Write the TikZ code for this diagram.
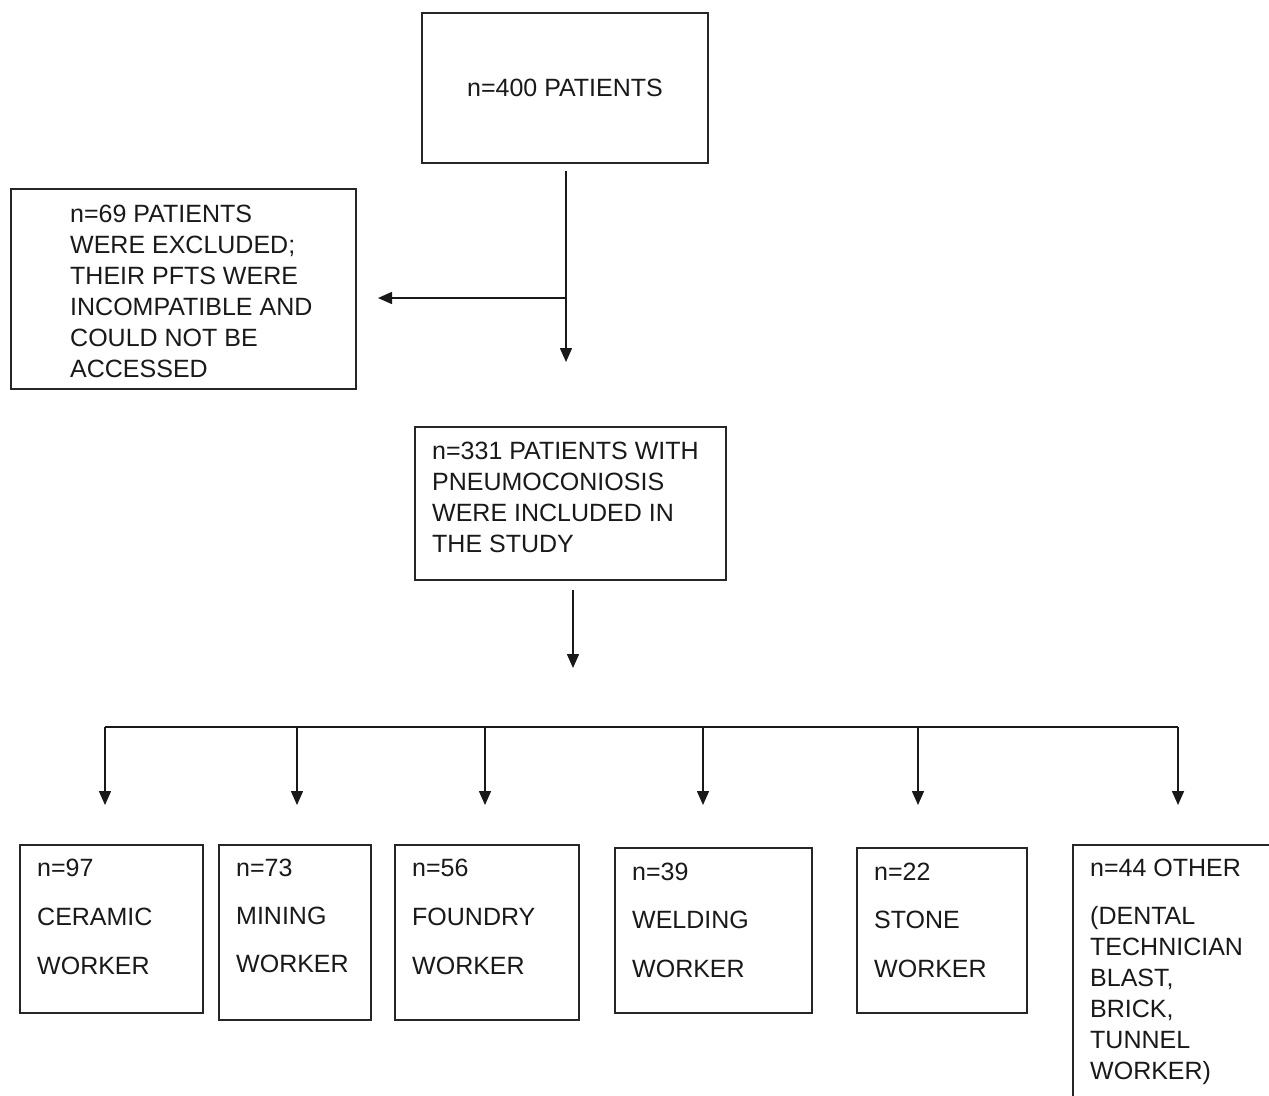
\documentclass[tikz,border=0pt]{standalone}
\usepackage{fontspec}
\setmainfont{Liberation Sans}
\usetikzlibrary{arrows.meta,calc}
\begin{document}
\begin{tikzpicture}[x=1pt,y=-1pt,
  box/.style={draw=black!85, line width=1.4pt, rectangle, inner sep=0pt,
    font=\fontsize{25}{31}\selectfont, text=black!90},
  txt/.style={font=\fontsize{25}{31}\selectfont, align=left, inner sep=0pt,
    anchor=north west, text=black!90},
  conn/.style={line width=1.5pt, draw=black!90},
  arr/.style={conn, -{Triangle[width=12pt,length=14pt]}}]
\useasboundingbox (0,0) rectangle (1269,1095);
\clip (0,0) rectangle (1269,1095);
\fill[white] (0,0) rectangle (1269,1095);

% boxes
\node[box, minimum width=286pt, minimum height=150pt] (top) at (565,88) {n=400 PATIENTS};
\node[box, minimum width=345pt, minimum height=200pt] (exc) at (183.5,289) {};
\node[txt] (exct) at (70,204.5) {n=69 PATIENTS\\WERE EXCLUDED;\\THEIR PFTS WERE\\INCOMPATIBLE AND\\COULD NOT BE\\ACCESSED};
\node[box, minimum width=311pt, minimum height=153pt] (inc) at (570.5,503.5) {};
\node[txt] (inct) at (432,441.5) {n=331 PATIENTS WITH\\PNEUMOCONIOSIS\\WERE INCLUDED IN\\THE STUDY};

\node[box, minimum width=183pt, minimum height=168pt] (b1) at (111.5,929) {};
\node[txt] (b1t) at (37,858.5) {n=97\\[18pt]CERAMIC\\[18pt]WORKER};
\node[box, minimum width=152pt, minimum height=175pt] (b2) at (295,932.5) {};
\node[txt] (b2t) at (236,858.5) {n=73\\[17pt]MINING\\[17pt]WORKER};
\node[box, minimum width=184pt, minimum height=175pt] (b3) at (487,932.5) {};
\node[txt] (b3t) at (412,858.5) {n=56\\[18pt]FOUNDRY\\[18pt]WORKER};
\node[box, minimum width=197pt, minimum height=165pt] (b4) at (713.5,930.5) {};
\node[txt] (b4t) at (632,862.5) {n=39\\[17pt]WELDING\\[18pt]WORKER};
\node[box, minimum width=170pt, minimum height=165pt] (b5) at (942,930.5) {};
\node[txt] (b5t) at (874,862.5) {n=22\\[17pt]STONE\\[18pt]WORKER};
\node[box, minimum width=227pt, minimum height=275pt] (b6) at (1186.5,982.5) {};
\node[txt] (b6t) at (1090,858.5) {n=44 OTHER\\[17pt](DENTAL\\TECHNICIAN\\BLAST,\\BRICK,\\TUNNEL\\WORKER)};

% connector points
\coordinate (a1) at (566,362);
\coordinate (j1) at (566,298);
\coordinate (a2) at (378,298);
\coordinate (s2) at (573,590);
\coordinate (a3) at (573,668);

\draw[arr] ([xshift=1pt,yshift=-7pt]top.south) -- (a1);
\draw[arr] (j1) -- (a2);
\draw[arr] (s2) -- (a3);

% distribution bus
\coordinate (busL) at (105,727);
\coordinate (busR) at (1178,727);
\draw[conn] (busL) -- (busR);
\foreach \x/\n in {105/1,297/2,485/3,703/4,918/5,1178/6}{
  \coordinate (d\n) at (\x,727);
  \coordinate (e\n) at (\x,805);
  \draw[arr] (d\n) -- (e\n);
}
\end{tikzpicture}
\end{document}
